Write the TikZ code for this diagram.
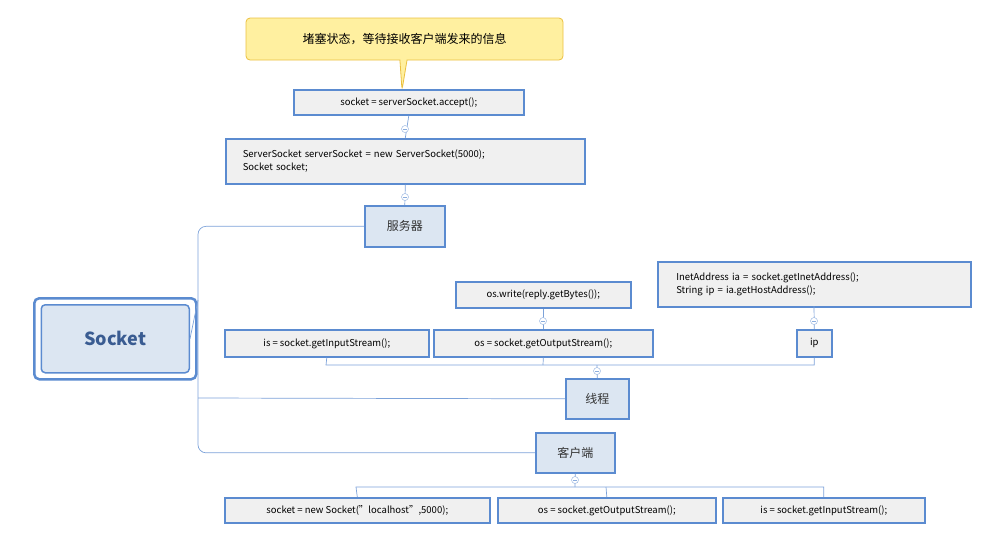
\documentclass[tikz,border=0pt]{standalone}
\usepackage{fontspec}
\setmainfont{Noto Sans CJK SC}
\usetikzlibrary{shapes.callouts}
\definecolor{lineblue}{HTML}{5B8BD0}
\definecolor{codefill}{HTML}{F0F0F0}
\definecolor{branchfill}{HTML}{DCE6F2}
\definecolor{rootblue}{HTML}{3A5C92}
\definecolor{tipfill}{HTML}{FFF0A0}
\definecolor{tipline}{HTML}{EBC040}
\tikzset{
  code/.style={draw=lineblue,line width=1.6pt,fill=codefill,font=\fontsize{9.5}{13}\selectfont,align=left,inner sep=0pt,anchor=north west},
  branch/.style={draw=lineblue,line width=1.6pt,fill=branchfill,font=\fontsize{12}{14}\selectfont,text=black!80,inner sep=0pt,anchor=north west},
  link/.style={draw=lineblue!80,line width=0.7pt},
  fold/.style={circle,draw=lineblue!60,fill=white,line width=0.5pt,minimum size=7pt,inner sep=0pt,
    path picture={\draw[lineblue!70] ([xshift=-2pt]path picture bounding box.center)--([xshift=2pt]path picture bounding box.center);}}
}
\begin{document}
\begin{tikzpicture}[x=1pt,y=-1pt]
\useasboundingbox (0,0) rectangle (992,558);
% root
\node[draw=lineblue,line width=2.5pt,rounded corners=5pt,minimum width=162pt,minimum height=81pt,anchor=north west] (rootout) at (33,297) {};
\node[draw=lineblue,line width=1.5pt,rounded corners=4pt,fill=branchfill,minimum width=148pt,minimum height=68pt,text=rootblue,font=\fontsize{18}{20}\selectfont\bfseries] (root) at (rootout.center) {Socket};
% server
\node[branch,minimum width=80pt,minimum height=41pt] (server) at (364,205) {服务器};
\node[code,minimum width=359pt,minimum height=45pt,text width=345pt] (ss) at (225,138) {\hspace*{10pt}ServerSocket serverSocket = new ServerSocket(5000);\\\hspace*{10pt}Socket socket;};
\node[code,minimum width=230pt,minimum height=25pt,align=center] (accept) at (293,89) {socket = serverSocket.accept();};
\node[rectangle callout,draw=tipline,fill=tipfill,line width=0.8pt,rounded corners=4pt,minimum width=317pt,minimum height=42pt,
  callout absolute pointer={(402,90)},font=\fontsize{12}{14}\selectfont] (tip) at (404.5,39) {堵塞状态，等待接收客户端发来的信息};
% thread
\node[branch,minimum width=63pt,minimum height=40pt] (thread) at (565,378) {线程};
\node[code,minimum width=204pt,minimum height=27pt,align=center] (tis) at (224,329) {is = socket.getInputStream();};
\node[code,minimum width=219pt,minimum height=27pt,align=center] (tos) at (433,329) {os = socket.getOutputStream();};
\node[code,minimum width=35pt,minimum height=27pt,align=center] (ip) at (796,329) {ip};
\node[code,minimum width=175pt,minimum height=26pt,align=center] (write) at (455,281) {os.write(reply.getBytes());};
\node[code,minimum width=313pt,minimum height=45pt,text width=300pt] (inet) at (657,261) {\hspace*{12pt}InetAddress ia = socket.getInetAddress();\\\hspace*{12pt}String ip = ia.getHostAddress();};
% client
\node[branch,minimum width=79pt,minimum height=40pt] (client) at (535,432) {客户端};
\node[code,minimum width=265pt,minimum height=25pt,align=center] (cnew) at (224,497) {socket = new Socket("localhost",5000);};
\node[code,minimum width=218pt,minimum height=25pt,align=center] (cos) at (497,497) {os = socket.getOutputStream();};
\node[code,minimum width=202pt,minimum height=25pt,align=center] (cis) at (722,497) {is = socket.getInputStream();};
% connectors
\coordinate (hub) at (198,300);
\begin{scope}[on background layer/.try]
\path[link] (root.east) -- (hub);
\path[link,rounded corners=8pt] (server.west) -| (198,300) |- (client.west);
\path[link] (198,398) -- (thread.west);
\path[link] (server.north) -- (ss.south);
\path[link] (ss.north) -- (accept.south);
\path[link] (thread.north) -- (597,365);
\path[link] (tis.south) -- (326,365) -| (ip.south);
\path[link] (tos.south) -- (543,365);
\path[link] (tos.north) -- (write.south);
\path[link] (ip.north) -- (814,306);
\path[link] (client.south) -- (575,487);
\path[link] (cnew.north) -- (356,487) -| (cis.north);
\path[link] (cos.north) -- (606,487);
\end{scope}
\node[fold] (f1) at (405,129) {};
\node[fold] (f2) at (405,197) {};
\node[fold] (f3) at (597,371) {};
\node[fold] (f4) at (543,321) {};
\node[fold] (f5) at (814,321) {};
\node[fold] (f6) at (575,480) {};
\end{tikzpicture}
\end{document}
